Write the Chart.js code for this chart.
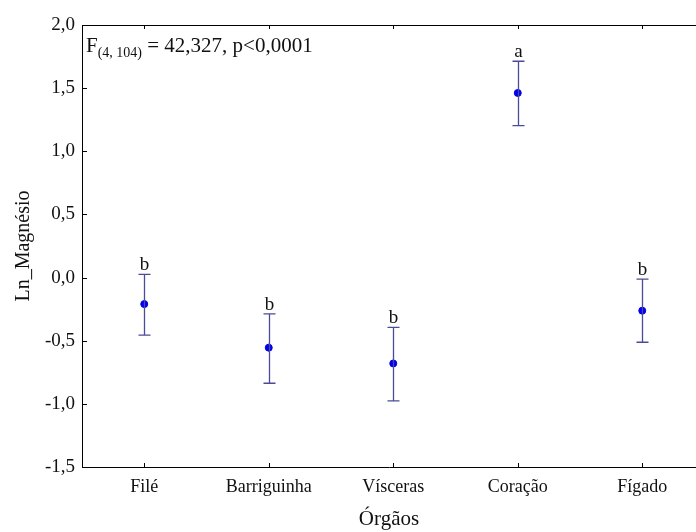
<!DOCTYPE html>
<html><head><meta charset="utf-8">
<script src="https://cdn.jsdelivr.net/npm/chart.js@4"></script>
<style>html,body{margin:0;padding:0;background:#fff;overflow:hidden}#wrap{width:696px;height:532px}</style>
</head><body><div id="wrap"><canvas id="c" width="696" height="532"></canvas></div>
<script>
const categories = ['Filé', 'Barriguinha', 'Vísceras', 'Coração', 'Fígado'];
const means = [-0.21, -0.555, -0.68, 1.462, -0.262];
const upper = [0.026, -0.288, -0.394, 1.713, -0.013];
const lower = [-0.455, -0.837, -0.977, 1.203, -0.512];
const groups = ['b', 'b', 'b', 'a', 'b'];
const yTicks = [-1.5, -1.0, -0.5, 0.0, 0.5, 1.0, 1.5, 2.0];
const statText = ['F', '(4, 104)', ' = 42,327, p<0,0001'];

const FONT = '"Liberation Serif", "DejaVu Serif", serif';

const errPlugin = {
  id: 'err',
  afterDatasetsDraw(chart) {
    const ctx = chart.ctx, x = chart.scales.x, y = chart.scales.y, a = chart.chartArea;
    ctx.save();
    // error bars
    ctx.strokeStyle = '#4b4b98';
    ctx.lineWidth = 1.3;
    means.forEach((m, i) => {
      const px = Math.round(x.getPixelForValue(i)) + 0.5;
      const pu = y.getPixelForValue(upper[i]);
      const pl = y.getPixelForValue(lower[i]);
      ctx.beginPath();
      ctx.moveTo(px, pu); ctx.lineTo(px, pl);
      ctx.moveTo(px - 6, pu); ctx.lineTo(px + 6, pu);
      ctx.moveTo(px - 6, pl); ctx.lineTo(px + 6, pl);
      ctx.stroke();
      ctx.fillStyle = '#111';
      ctx.font = '19px ' + FONT;
      ctx.textAlign = 'center';
      ctx.textBaseline = 'alphabetic';
      ctx.fillText(groups[i], px, pu - 4);
    });
    // frame top + inward ticks
    ctx.strokeStyle = '#000';
    ctx.lineWidth = 1;
    ctx.beginPath();
    ctx.moveTo(a.left, a.top + 0.5); ctx.lineTo(a.right, a.top + 0.5);
    categories.forEach((c, i) => {
      const px = Math.round(x.getPixelForValue(i)) + 0.5;
      ctx.moveTo(px, a.top); ctx.lineTo(px, a.top + 4);
      ctx.moveTo(px, a.bottom); ctx.lineTo(px, a.bottom - 4);
    });
    yTicks.forEach(v => {
      const py = Math.round(y.getPixelForValue(v)) + 0.5;
      ctx.moveTo(a.left, py); ctx.lineTo(a.left + 5, py);
    });
    ctx.stroke();
    // stat text
    ctx.fillStyle = '#111';
    ctx.textAlign = 'left';
    ctx.textBaseline = 'alphabetic';
    let tx = a.left + 4;
    const by = a.top + 27;
    ctx.font = '21px ' + FONT;
    ctx.fillText(statText[0], tx, by);
    tx += ctx.measureText(statText[0]).width;
    ctx.font = '14px ' + FONT;
    ctx.fillText(statText[1], tx, by + 5);
    tx += ctx.measureText(statText[1]).width;
    ctx.font = '21px ' + FONT;
    ctx.fillText(statText[2], tx, by);
    ctx.restore();
  }
};

new Chart(document.getElementById('c'), {
  type: 'scatter',
  data: {
    datasets: [{
      data: means.map((m, i) => ({ x: i, y: m })),
      backgroundColor: '#0000ee',
      borderColor: '#0000ee',
      pointRadius: 3.5,
      pointHoverRadius: 3.5
    }]
  },
  options: {
    responsive: false,
    animation: false,
    events: [],
    layout: { autoPadding: false, padding: { left: 0, right: 0, top: 25, bottom: 0 } },
    plugins: { legend: { display: false }, tooltip: { enabled: false } },
    scales: {
      x: {
        type: 'linear',
        min: -0.5,
        max: -0.5 + 614 / 124.5,
        afterBuildTicks: s => { s.ticks = categories.map((c, i) => ({ value: i })); },
        afterFit: s => { s.height = 65; },
        grid: { display: false, drawTicks: false },
        border: { display: true, color: '#000', width: 1 },
        ticks: {
          autoSkip: false,
          maxRotation: 0,
          padding: 9,
          color: '#111',
          font: { family: FONT, size: 18 },
          callback: (v) => categories[v] ?? ''
        },
        title: {
          display: true,
          text: 'Órgãos',
          color: '#111',
          font: { family: FONT, size: 21 },
          padding: { top: 6, bottom: 0 }
        }
      },
      y: {
        min: -1.5,
        max: 2.0,
        afterBuildTicks: s => { s.ticks = yTicks.map(v => ({ value: v })); },
        afterFit: s => { s.width = 82; },
        grid: { display: false, drawTicks: false },
        border: { display: true, color: '#000', width: 1 },
        ticks: {
          padding: 7,
          color: '#111',
          font: { family: FONT, size: 19 },
          callback: v => v.toFixed(1).replace('.', ',')
        },
        title: {
          display: true,
          text: 'Ln_Magnésio',
          color: '#111',
          font: { family: FONT, size: 20 },
          padding: { top: 12, bottom: 4 }
        }
      }
    }
  },
  plugins: [errPlugin]
});
</script>
</body></html>
